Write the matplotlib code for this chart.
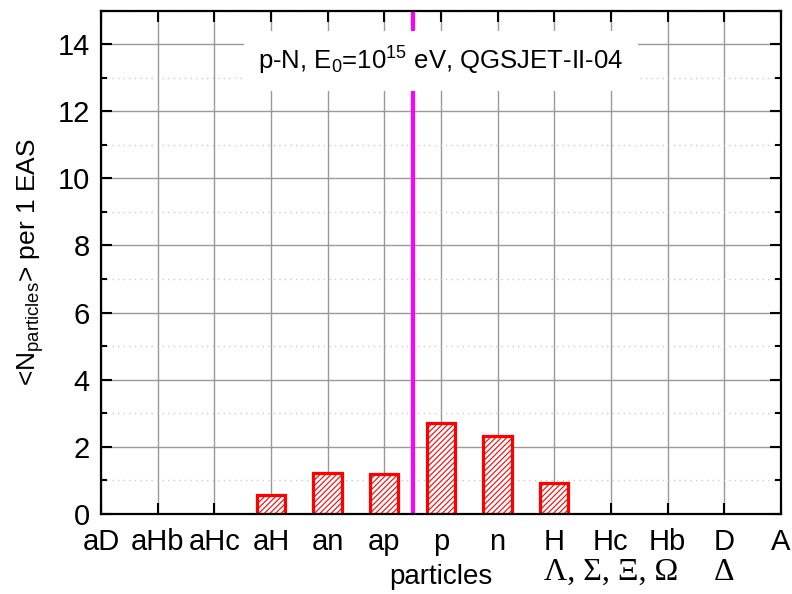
import numpy as np
import matplotlib.pyplot as plt
from matplotlib.ticker import MultipleLocator

plt.rcParams['font.family'] = ['Liberation Sans', 'DejaVu Sans']
plt.rcParams['mathtext.default'] = 'regular'
plt.rcParams['hatch.linewidth'] = 0.8

# particle categories on the x axis
particles = ["aD", "aHb", "aHc", "aH", "an", "ap", "p", "n", "H", "Hc", "Hb", "D", "A"]
# mean number per 1 EAS (only non-zero ones are drawn)
bar_particles = ["aH", "an", "ap", "p", "n", "H"]
bar_values = [0.57, 1.22, 1.19, 2.72, 2.33, 0.93]
boundary = 5.5  # split between antiparticles and particles

fig = plt.figure(figsize=(7.92, 5.94), dpi=100)
ax = fig.add_axes([0.1275, 0.135, 0.8585, 0.847])

x_pos = np.arange(len(particles))
bar_x = [particles.index(p) for p in bar_particles]

ax.bar(bar_x, bar_values, width=0.5, facecolor='white', edgecolor='red',
       linewidth=2.3, hatch='//////', zorder=3)

ax.axvline(boundary, color='#ff00ff', linewidth=3, zorder=4)

ax.set_xlim(0, 12)
ax.set_ylim(0, 15)
ax.set_xticks(x_pos)
ax.set_xticklabels(particles, fontsize=21)
ax.yaxis.set_major_locator(MultipleLocator(2))
ax.yaxis.set_minor_locator(MultipleLocator(1))
ax.tick_params(axis='y', labelsize=21)

ax.tick_params(which='major', direction='in', length=8, width=1.5,
               top=True, right=True, pad=8)
ax.tick_params(which='minor', direction='in', length=4, width=1.5,
               top=False, right=True)
ax.tick_params(axis='x', which='minor', bottom=False, top=False)
ax.tick_params(axis='x', which='major', pad=10)

ax.grid(True, which='major', color='#999999', linewidth=1.0, zorder=0)
ax.grid(True, which='minor', axis='y', color='#cccccc', linewidth=1.0,
        linestyle=(0, (1, 3)), zorder=0)
ax.set_axisbelow(True)

for s in ax.spines.values():
    s.set_linewidth(1.6)
    s.set_zorder(5)

ax.set_ylabel("<N$_{particles}$> per 1 EAS", fontsize=19, labelpad=8)
ax.set_xlabel("particles", fontsize=20, labelpad=6)

ax.text(6, 13.5, "p-N, E$_0$=10$^{15}$ eV, QGSJET-II-04", fontsize=18.5,
        ha='center', va='center', zorder=6,
        bbox=dict(facecolor='white', edgecolor='none', boxstyle='square,pad=0.55'))

# greek hyperon names under H/Hc/Hb and D
ax.text(9.0, -1.75, "Λ, Σ, Ξ, Ω", fontsize=23, family='Liberation Serif',
        ha='center', va='center', clip_on=False)
ax.text(11.0, -1.75, "Δ", fontsize=23, family='Liberation Serif',
        ha='center', va='center', clip_on=False)

fig.savefig("out.png", dpi=100)
